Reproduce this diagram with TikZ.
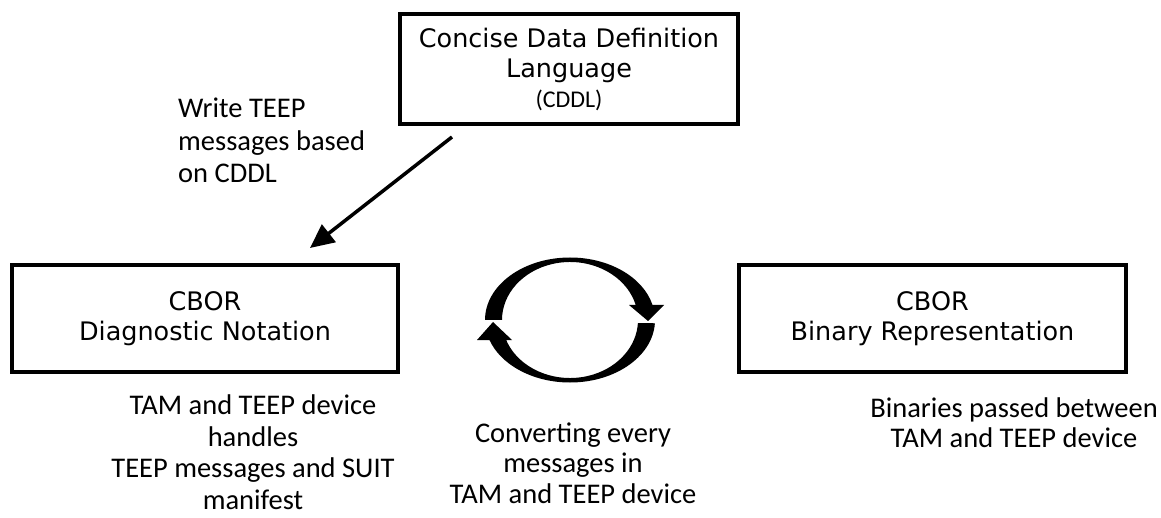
\documentclass[tikz,border=0pt]{standalone}
\usepackage{fontspec}
\setmainfont{DejaVu Sans}
\newfontfamily\carlito{Carlito}
\usetikzlibrary{arrows.meta}

\begin{document}
\begin{tikzpicture}[x=1pt, y=1pt,
  block/.style={draw, line width=3.5pt, align=center, inner sep=0pt, font=\fontsize{25.5}{30}\selectfont},
  note/.style={align=center, inner sep=0pt, font=\carlito\fontsize{28.5}{#1}\selectfont},
  note/.default=31]
  \useasboundingbox (0,0) rectangle (1161,517);
  \node[block, minimum width=338pt, minimum height=110pt] (cddl) at (569,448)
    {Concise Data Definition\\Language\\{\carlito\fontsize{24}{30}\selectfont (CDDL)}};
  \node[block, minimum width=386pt, minimum height=107pt] (diag) at (205,198.5)
    {CBOR\\Diagnostic Notation};
  \node[block, minimum width=387pt, minimum height=107pt] (bin) at (932.5,198.5)
    {CBOR\\Binary Representation};
  \node[note=32.5, align=left, anchor=base west] (write) at (178,334) {Write TEEP\\messages based\\on CDDL};
  \node[note=31.5, anchor=base] (handles) at (253,8) {TAM and TEEP device\\handles\\TEEP messages and SUIT\\manifest};
  \node[note=30.5, anchor=base] (convert) at (573,14) {Converting every\\messages in\\TAM and TEEP device};
  \node[note=30, anchor=base] (binaries) at (1014,70) {Binaries passed between\\TAM and TEEP device};
  \coordinate (wfrom) at (452,380);
  \coordinate (wto) at (310,269);
  \draw[line width=3.5pt, -{Triangle[length=24pt, width=22pt]}] (wfrom) -- (wto);
  \begin{scope}[shift={(570,197)}]
    \fill (180:85pt and 62.5pt) arc[start angle=180, end angle=14, x radius=85pt, y radius=62.5pt]
      -- (94,15) -- (78,-1) -- (59,15)
      -- (15:68pt and 58pt) arc[start angle=15, end angle=180, x radius=68pt, y radius=58pt] -- cycle;
    \fill (-3:85pt and 62.5pt) arc[start angle=-3, end angle=-161.3, x radius=85pt, y radius=62.5pt]
      -- (-93,-20) -- (-77,-2) -- (-58,-20)
      -- (-159.8:68pt and 58pt) arc[start angle=-159.8, end angle=-3, x radius=68pt, y radius=58pt] -- cycle;
  \end{scope}
\end{tikzpicture}
\end{document}
